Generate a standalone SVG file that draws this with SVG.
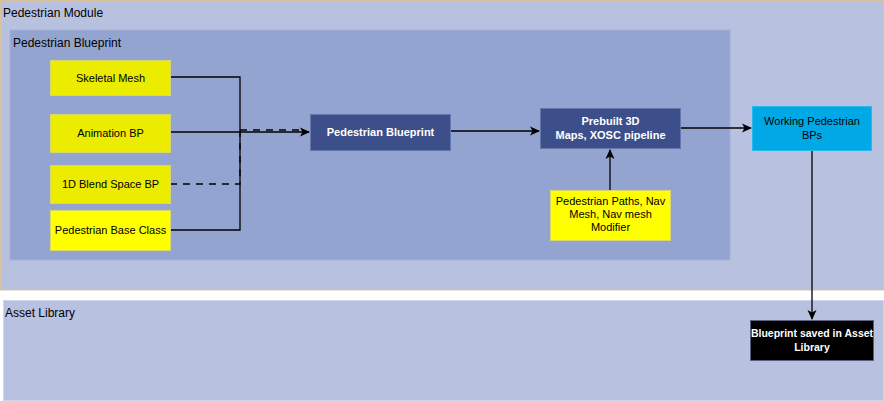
<svg xmlns="http://www.w3.org/2000/svg" width="884" height="401" viewBox="0 0 884 401">
<style>
text{font-family:"Liberation Sans",Arial,sans-serif;font-size:11px;fill:#000}
.title{font-size:12px}
.lbl{text-anchor:middle}
.w{fill:#fff;font-weight:bold}
.y1{fill:#ecec00;stroke:#d6d66a;stroke-width:1}
.y2{fill:#ffff00;stroke:#d6d66a;stroke-width:1}
.dk{fill:#3d4f8a;stroke:#6577ac;stroke-width:1}
.ln{fill:none;stroke:#000;stroke-width:1.3}
.ds{stroke-dasharray:7 6}
</style>
<defs>
<marker id="ah" markerWidth="10" markerHeight="10" refX="9" refY="5" orient="auto" markerUnits="userSpaceOnUse">
<path d="M0,0.5 L10,5 L0,9.5 L2.5,5 Z" fill="#000"/>
</marker>
</defs>
<rect width="884" height="401" fill="#fff"/>
<g id="pedestrian-module">
<rect x="0.5" y="0.5" width="883" height="289.5" fill="#b8c1e0" stroke="#d9c39a"/>
<text class="title" x="3" y="17">Pedestrian Module</text>
</g>
<g id="pedestrian-blueprint-group">
<rect x="10" y="30" width="720" height="230" fill="#94a4d1" stroke="#a3b0d8"/>
<text class="title" x="13" y="47">Pedestrian Blueprint</text>
</g>
<g id="asset-library">
<rect x="3.5" y="300.5" width="880" height="100" fill="#b8c1e0" stroke="#d0d6ec"/>
<text class="title" x="5" y="317">Asset Library</text>
</g>
<g id="connectors">
<polyline class="ln" points="170,77 240,77 240,131"/>
<polyline class="ln" points="170,132 240,132"/>
<polyline class="ln" points="170,230 240,230 240,131"/>
<polyline class="ln ds" points="170,184 240,184 240,131"/>
<line class="ln ds" x1="240" y1="130" x2="300" y2="130"/>
<line class="ln" x1="240" y1="132" x2="309" y2="132" marker-end="url(#ah)"/>
<line class="ln" x1="451" y1="131" x2="539" y2="131" marker-end="url(#ah)"/>
<line class="ln" x1="681" y1="128" x2="751" y2="128" marker-end="url(#ah)"/>
<line class="ln" x1="610" y1="190" x2="610" y2="150" marker-end="url(#ah)"/>
<line class="ln" x1="812" y1="151" x2="812" y2="319" marker-end="url(#ah)"/>
</g>
<g id="skeletal-mesh">
<rect class="y1" x="50.5" y="60.5" width="120" height="35"/>
<text class="lbl" x="110.5" y="82">Skeletal Mesh</text>
</g>
<g id="animation-bp">
<rect class="y1" x="50.5" y="114.5" width="120" height="38"/>
<text class="lbl" x="110.5" y="137">Animation BP</text>
</g>
<g id="blend-space-bp">
<rect class="y1" x="50.5" y="165.5" width="120" height="38"/>
<text class="lbl" x="110.5" y="188">1D Blend Space BP</text>
</g>
<g id="pedestrian-base-class">
<rect class="y2" x="50.5" y="210.5" width="120" height="40"/>
<text class="lbl" x="110.5" y="234">Pedestrian Base Class</text>
</g>
<g id="pedestrian-blueprint">
<rect class="dk" x="310.5" y="114.5" width="140" height="36"/>
<text class="lbl w" x="380.5" y="136">Pedestrian Blueprint</text>
</g>
<g id="prebuilt-3d">
<rect class="dk" x="540.5" y="108.5" width="140" height="40"/>
<text class="lbl w" x="610.5" y="125">Prebuilt 3D</text>
<text class="lbl w" x="610.5" y="139">Maps, XOSC pipeline</text>
</g>
<g id="pedestrian-paths">
<rect class="y2" x="550.5" y="190.5" width="120" height="50"/>
<text class="lbl" x="610.5" y="205">Pedestrian Paths, Nav</text>
<text class="lbl" x="610.5" y="218">Mesh, Nav mesh</text>
<text class="lbl" x="610.5" y="231">Modifier</text>
</g>
<g id="working-pedestrian-bps">
<rect x="752.5" y="106.5" width="119" height="44" fill="#00a9e6" stroke="#29b8ee"/>
<text class="lbl" x="812" y="125" fill="#1a1a1a">Working Pedestrian</text>
<text class="lbl" x="812" y="139" fill="#1a1a1a">BPs</text>
</g>
<g id="blueprint-saved">
<rect x="750.5" y="320.5" width="123" height="40" fill="#000" stroke="#5a6080"/>
<text class="lbl w" x="812" y="337" style="font-size:10.5px">Blueprint saved in Asset</text>
<text class="lbl w" x="812" y="351" style="font-size:10.5px">Library</text>
</g>
</svg>
